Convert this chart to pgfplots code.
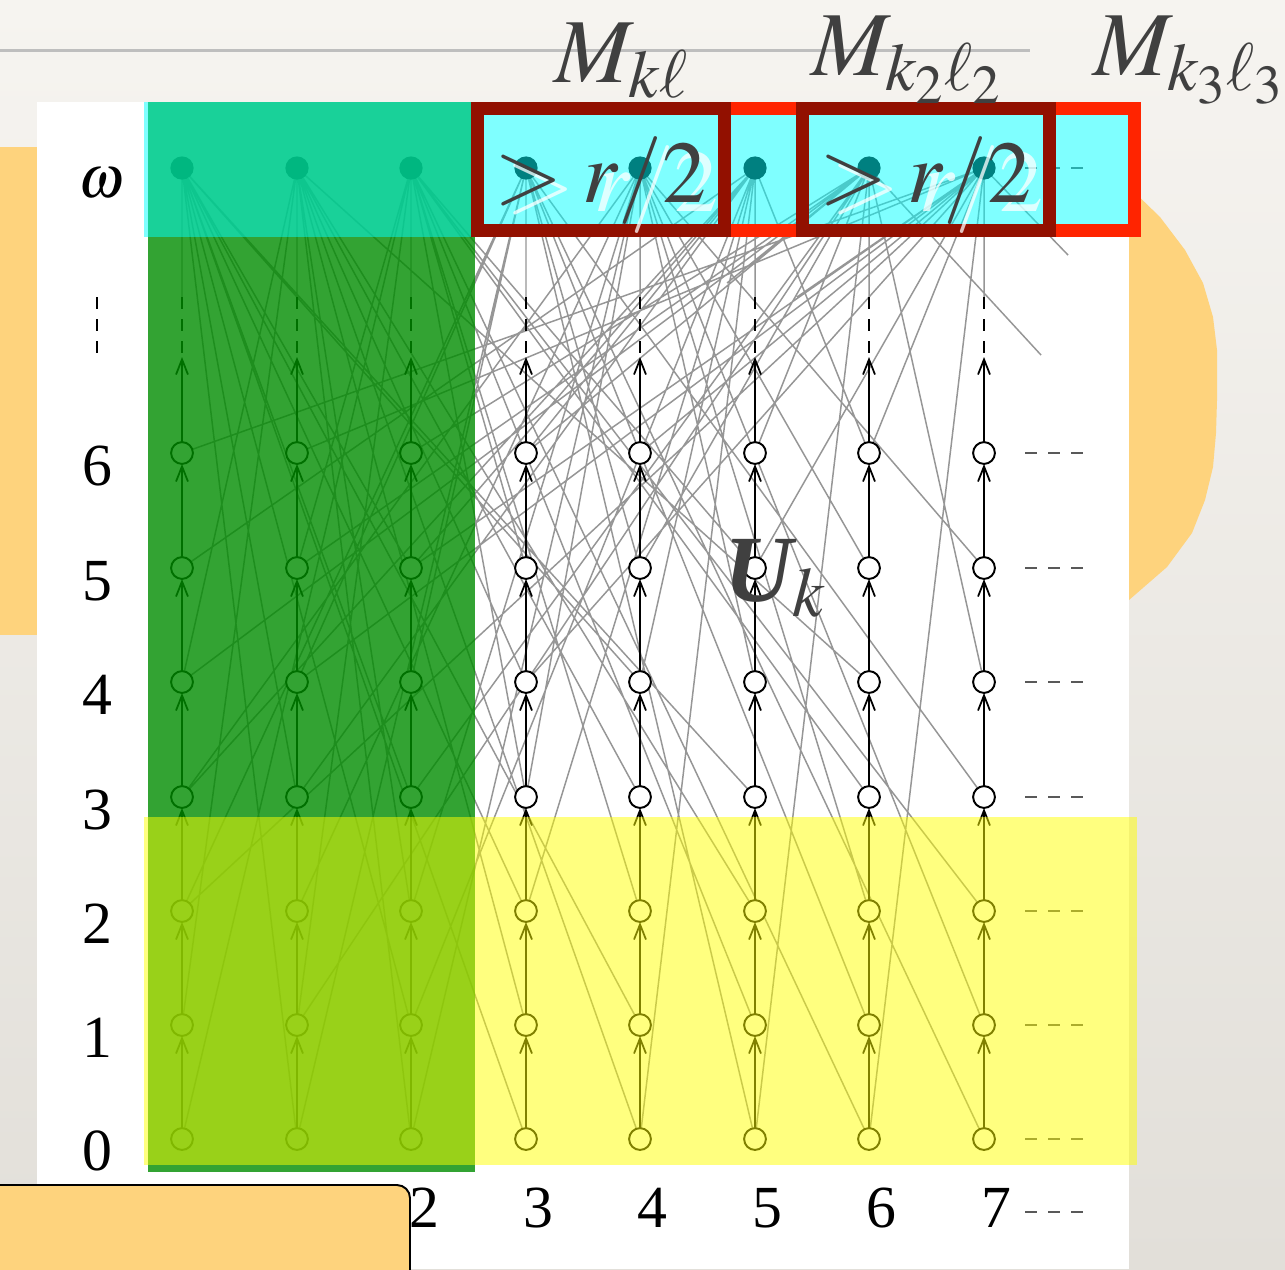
\documentclass[border=0pt]{standalone}
\usepackage{mathptmx}
\usepackage[no-math]{fontspec}
\setmainfont{Liberation Serif}
\setsansfont{Liberation Sans}
\usepackage{pgfplots}
\pgfplotsset{compat=1.18}
\usepackage{pgfplotstable}
\usetikzlibrary{arrows.meta}

\definecolor{paper}{RGB}{246,244,240}
\definecolor{paperdark}{RGB}{226,223,217}
\definecolor{sand}{RGB}{254,211,125}
\definecolor{boxred}{RGB}{255,36,0}
\definecolor{darkbox}{RGB}{146,16,0}
\definecolor{ink}{RGB}{64,64,64}
\definecolor{leafgreen}{RGB}{0,140,0}
\definecolor{lemon}{RGB}{255,255,0}
\definecolor{aqua}{RGB}{0,255,255}
\definecolor{rulegray}{RGB}{190,190,190}
\definecolor{edgegray}{RGB}{150,150,150}

% grid nodes (column k, level n), in picture units
\pgfplotstableread{
x y
182 1139
182 1025
182 911
182 797
182 682
182 568
182 453
297 1139
297 1025
297 911
297 797
297 682
297 568
297 453
411 1139
411 1025
411 911
411 797
411 682
411 568
411 453
526 1139
526 1025
526 911
526 797
526 682
526 568
526 453
640 1139
640 1025
640 911
640 797
640 682
640 568
640 453
755 1139
755 1025
755 911
755 797
755 682
755 568
755 453
869 1139
869 1025
869 911
869 797
869 682
869 568
869 453
984 1139
984 1025
984 911
984 797
984 682
984 568
984 453
}\gridnodes

% limit points at level omega
\pgfplotstableread{
x y
182 168
297 168
411 168
526 168
640 168
755 168
869 168
984 168
}\omeganodes

% successor arrows: start point and vertical length (upwards)
\pgfplotstableread{
x y u v
182 1128 0 -92
182 1014 0 -92
182 900 0 -92
182 786 0 -93
182 671 0 -92
182 557 0 -93
182 442 0 -85
297 1128 0 -92
297 1014 0 -92
297 900 0 -92
297 786 0 -93
297 671 0 -92
297 557 0 -93
297 442 0 -85
411 1128 0 -92
411 1014 0 -92
411 900 0 -92
411 786 0 -93
411 671 0 -92
411 557 0 -93
411 442 0 -85
526 1128 0 -92
526 1014 0 -92
526 900 0 -92
526 786 0 -93
526 671 0 -92
526 557 0 -93
526 442 0 -85
640 1128 0 -92
640 1014 0 -92
640 900 0 -92
640 786 0 -93
640 671 0 -92
640 557 0 -93
640 442 0 -85
755 1128 0 -92
755 1014 0 -92
755 900 0 -92
755 786 0 -93
755 671 0 -92
755 557 0 -93
755 442 0 -85
869 1128 0 -92
869 1014 0 -92
869 900 0 -92
869 786 0 -93
869 671 0 -92
869 557 0 -93
869 442 0 -85
984 1128 0 -92
984 1014 0 -92
984 900 0 -92
984 786 0 -93
984 671 0 -92
984 557 0 -93
984 442 0 -85
}\arrowtab

% edges from the omega level down to the finite levels
\pgfplotstableread{
x y
182 168
297 1139
nan nan
182 168
297 797
nan nan
182 168
411 1025
nan nan
182 168
411 568
nan nan
182 168
526 1139
nan nan
182 168
526 911
nan nan
182 168
640 1025
nan nan
182 168
640 682
nan nan
182 168
755 797
nan nan
182 168
411 797
nan nan
297 168
182 1025
nan nan
297 168
182 682
nan nan
297 168
411 1139
nan nan
297 168
411 911
nan nan
297 168
526 1025
nan nan
297 168
526 682
nan nan
297 168
640 1139
nan nan
297 168
640 797
nan nan
297 168
755 911
nan nan
297 168
869 682
nan nan
411 168
182 1139
nan nan
411 168
297 1025
nan nan
411 168
297 568
nan nan
411 168
526 797
nan nan
411 168
526 568
nan nan
411 168
640 911
nan nan
411 168
755 1025
nan nan
411 168
755 568
nan nan
411 168
869 1139
nan nan
411 168
869 797
nan nan
411 168
984 911
nan nan
526 168
182 911
nan nan
526 168
297 682
nan nan
526 168
411 682
nan nan
526 168
640 568
nan nan
526 168
755 1139
nan nan
526 168
869 1025
nan nan
526 168
984 1139
nan nan
526 168
984 797
nan nan
526 168
640 453
nan nan
526 168
297 1139
nan nan
640 168
182 797
nan nan
640 168
297 911
nan nan
640 168
411 911
nan nan
640 168
526 797
nan nan
640 168
755 682
nan nan
640 168
869 911
nan nan
640 168
984 1025
nan nan
640 168
984 568
nan nan
640 168
411 1139
nan nan
640 168
869 568
nan nan
755 168
182 568
nan nan
755 168
411 1025
nan nan
755 168
526 453
nan nan
755 168
526 911
nan nan
755 168
297 797
nan nan
755 168
640 682
nan nan
755 168
869 453
nan nan
755 168
182 797
nan nan
755 168
411 568
nan nan
755 168
640 1139
nan nan
869 168
182 682
nan nan
869 168
297 568
nan nan
869 168
411 453
nan nan
869 168
411 797
nan nan
869 168
526 453
nan nan
869 168
640 568
nan nan
869 168
984 682
nan nan
869 168
755 453
nan nan
869 168
297 1025
nan nan
869 168
755 1139
nan nan
869 168
1041 355
nan nan
984 168
182 453
nan nan
984 168
297 682
nan nan
984 168
411 568
nan nan
984 168
526 682
nan nan
984 168
640 453
nan nan
984 168
755 568
nan nan
984 168
869 453
nan nan
984 168
182 911
nan nan
984 168
297 453
nan nan
984 168
869 1139
nan nan
984 168
1068 255
nan nan
727 283
869 168
nan nan
797 297
984 168
nan nan
182 168
182 297
nan nan
297 168
297 297
nan nan
411 168
411 297
nan nan
526 168
526 297
nan nan
640 168
640 297
nan nan
755 168
755 297
nan nan
869 168
869 297
nan nan
984 168
984 297
}\fanedges

% dotted continuation above level 6 (and the row label)
\pgfplotstableread{
x y
97 297
97 353
nan nan
182 297
182 353
nan nan
297 297
297 353
nan nan
411 297
411 353
nan nan
526 297
526 353
nan nan
640 297
640 353
nan nan
755 297
755 353
nan nan
869 297
869 353
nan nan
984 297
984 353
}\vdots

% trailing dashes at the right of each row
\pgfplotstableread{
x y
1025 168
1083 168
nan nan
1025 453
1083 453
nan nan
1025 568
1083 568
nan nan
1025 682
1083 682
nan nan
1025 797
1083 797
nan nan
1025 911
1083 911
nan nan
1025 1025
1083 1025
nan nan
1025 1139
1083 1139
nan nan
1025 1212
1083 1212
}\hdots

\newcommand{\gtr}{$>r/2$}

\begin{document}
\begin{tikzpicture}
\begin{axis}[
  width=12.85cm, height=12.69cm, scale only axis,
  xmin=0, xmax=1285, ymin=0, ymax=1269, y dir=reverse,
  hide axis, unbounded coords=jump, clip marker paths=true,
]
% paper background
\addplot[draw=none, top color=paper, bottom color=paperdark]
  coordinates {(0,0) (1285,0) (1285,1269) (0,1269)} -- cycle;
% rule at the top
\addplot[rulegray, line width=0.85pt] coordinates {(0,50) (1030,50)};
% sand-coloured panels behind the diagram
\addplot[fill=sand, draw=none] coordinates {(0,147) (60,147) (60,635) (0,635)} -- cycle;
\addplot[fill=sand, draw=none] coordinates {
  (1100,187) (1129,187) (1160,217) (1185,250) (1203,283) (1213,317) (1217,350)
  (1217,400) (1216,433) (1213,467) (1205,500) (1192,533) (1167,567) (1129,600)
  (1100,600)} -- cycle;
% white sheet
\addplot[fill=white, draw=none] coordinates {(37,102) (1129,102) (1129,1269) (37,1269)} -- cycle;

% edges to the omega level
\addplot[edgegray, line width=0.42pt] table[x=x,y=y] \fanedges;
% successor arrows
\addplot[black, line width=0.5pt, -{Straight Barb[length=4.3pt,width=3.4pt]},
  quiver={u=\thisrow{u}, v=\thisrow{v}}] table[x=x,y=y] \arrowtab;
\addplot[black, line width=0.5pt, dash pattern=on 1.2mm off 1.0mm] table[x=x,y=y] \vdots;
\addplot[black!65, line width=0.55pt, dash pattern=on 1.2mm off 1.1mm] table[x=x,y=y] \hdots;
% nodes
\addplot[only marks, mark=*, mark size=3.1pt,
  mark options={fill=white, draw=black, line width=0.55pt}] table[x=x,y=y] \gridnodes;
\addplot[only marks, mark=*, mark size=3.1pt,
  mark options={fill=black, draw=none}] table[x=x,y=y] \omeganodes;

% highlighted regions
\addplot[fill=leafgreen, fill opacity=0.8, draw=none]
  coordinates {(148,102) (475,102) (475,1172) (148,1172)} -- cycle;
\addplot[fill=lemon, fill opacity=0.5, draw=none]
  coordinates {(144,817) (1137,817) (1137,1165) (144,1165)} -- cycle;
\addplot[fill=aqua, fill opacity=0.5, draw=none]
  coordinates {(144,102) (1135,102) (1135,237) (144,237)} -- cycle;
\addplot[draw=boxred, line width=3.7pt]
  coordinates {(477.5,108.5) (1134.5,108.5) (1134.5,230.5) (477.5,230.5)} -- cycle;
\addplot[draw=darkbox, line width=3.7pt]
  coordinates {(477.5,108.5) (724.5,108.5) (724.5,230.5) (477.5,230.5)} -- cycle;
\addplot[draw=darkbox, line width=3.7pt]
  coordinates {(802.5,108.5) (1049.5,108.5) (1049.5,230.5) (802.5,230.5)} -- cycle;

% row labels
\begin{scope}[every node/.style={anchor=base, font=\fontsize{17}{20}\selectfont}]
\node at (101,197) {$\omega$};
\node at (97,485) {6};
\node at (97,600) {5};
\node at (97,714) {4};
\node at (97,829) {3};
\node at (97,943) {2};
\node at (97,1057) {1};
\node at (97,1170) {0};
\node at (194,1227) {0};
\node at (309,1227) {1};
\node at (424,1227) {2};
\node at (538,1227) {3};
\node at (652,1227) {4};
\node at (767,1227) {5};
\node at (881,1227) {6};
\node at (996,1227) {7};
\end{scope}

% box captions
\begin{scope}[every node/.style={anchor=base west, inner sep=0pt, font=\fontsize{25}{30}\selectfont}]
\node[text=white, opacity=0.75] at (506,211) {\gtr};
\node[text=ink] at (494,202) {\gtr};
\node[text=white, opacity=0.75] at (831,211) {\gtr};
\node[text=ink] at (819,202) {\gtr};
\end{scope}
\begin{scope}[every node/.style={anchor=base west, text=ink, font=\fontsize{26}{31}\selectfont}]
\node at (542,82) {$M_{k\ell}$};
\node at (799,75) {$M_{k_2\ell_2}$};
\node at (1081,75) {$M_{k_3\ell_3}$};
\node[font=\fontsize{27}{32}\selectfont] at (712,601) {$\mbox{\bfseries\itshape U}_{k}$};
\end{scope}

% label box at the bottom left
\addplot[fill=sand, draw=black, line width=0.55pt, rounded corners=1.3mm]
  coordinates {(-20,1185) (410,1185) (410,1300) (-20,1300)} -- cycle;
\end{axis}
\pgfresetboundingbox
\path[use as bounding box] (current axis.south west) rectangle (current axis.north east);
\end{tikzpicture}
\end{document}
